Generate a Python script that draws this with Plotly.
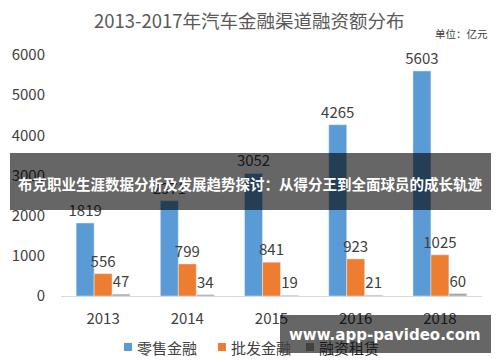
import plotly.graph_objects as go

years = ["2013", "2014", "2015", "2016", "2018"]
retail = [1819, 2371, 3052, 4265, 5603]
wholesale = [556, 799, 841, 923, 1025]
leasing = [47, 34, 19, 21, 60]
series_names = ["零售金融", "批发金融", "融资租赁"]
colors = ["#5B9BD5", "#ED7D31", "#A5A5A5"]

font_family = "Noto Sans CJK SC, Open Sans, sans-serif"
text_color = "#404040"

L, T, W, H = 61, 43, 421, 253  # plot area in pixels
def px(x):
    return (x - L) / W
def py(y):
    return (T + H - y) / H

fig = go.Figure()
for name, vals, col in zip(series_names, [retail, wholesale, leasing], colors):
    fig.add_trace(go.Bar(
        x=years, y=vals, name=name, marker_color=col,
        text=[str(v) for v in vals], textposition="outside",
        textfont=dict(size=15, color=text_color, family=font_family),
        constraintext="none", cliponaxis=False, hoverinfo="skip",
    ))

fig.update_layout(
    width=500, height=362,
    margin=dict(l=L, r=500 - L - W, t=T, b=362 - T - H, autoexpand=False),
    paper_bgcolor="white", plot_bgcolor="white",
    barmode="group", bargap=0.36, bargroupgap=0,
    font=dict(family=font_family, color=text_color, size=14),
    showlegend=False,
    xaxis=dict(showline=True, linecolor="#D9D9D9", linewidth=1, ticks="",
               automargin=False, ticklabelstandoff=9,
               tickfont=dict(size=15, color=text_color), showgrid=False),
    yaxis=dict(range=[0, 6300], tickvals=[0, 1000, 2000, 3000, 4000, 5000, 6000],
               showgrid=False, zeroline=False, showline=False, ticks="",
               automargin=False, ticklabelstandoff=15,
               tickfont=dict(size=15, color=text_color)),
)

def note(text, x, y, size, color, family=font_family, xanchor="center"):
    fig.add_annotation(text=text, xref="paper", yref="paper", x=px(x), y=py(y),
                       xanchor=xanchor, yanchor="middle", showarrow=False,
                       font=dict(size=size, color=color, family=family))

# Title and unit
note("2013-2017年汽车金融渠道融资额分布", 249, 20, 18.5, "#595959")
note("单位：亿元", 490, 33, 10.5, text_color, xanchor="right")

# Manual legend
leg_y = 347
leg_sq_x = [124, 218, 306]
leg_txt_x = [135, 229, 317]
leg_txt_colors = [text_color, text_color, "#1A1A1A"]
for name, col, sx, tx, tc in zip(series_names, colors, leg_sq_x, leg_txt_x, leg_txt_colors):
    fig.add_shape(type="rect", xref="paper", yref="paper",
                  x0=px(sx), x1=px(sx + 8), y0=py(leg_y + 4), y1=py(leg_y - 4),
                  fillcolor=col, line=dict(width=0), layer="above")
    note(name, tx, leg_y, 15, tc, xanchor="left")

# Overlay banner
fig.add_shape(type="rect", xref="paper", yref="paper",
              x0=px(10), x1=px(491), y0=py(210), y1=py(153),
              fillcolor="rgba(0,0,0,0.6)", line=dict(width=0), layer="above")
note("<b>布克职业生涯数据分析及发展趋势探讨：从得分王到全面球员的成长轨迹</b>",
     250, 183, 14.5, "white")

# Watermark box
fig.add_shape(type="rect", xref="paper", yref="paper",
              x0=px(280), x1=px(491), y0=py(353), y1=py(315),
              fillcolor="rgba(0,0,0,0.6)", line=dict(width=0), layer="above")
note("<b>www.app-pavideo.com</b>", 385, 335, 15, "white", family="DejaVu Sans, sans-serif")

fig.write_html("out.html", config={"displayModeBar": False},
               post_script="document.body.style.margin='0';document.body.style.padding='0';")
